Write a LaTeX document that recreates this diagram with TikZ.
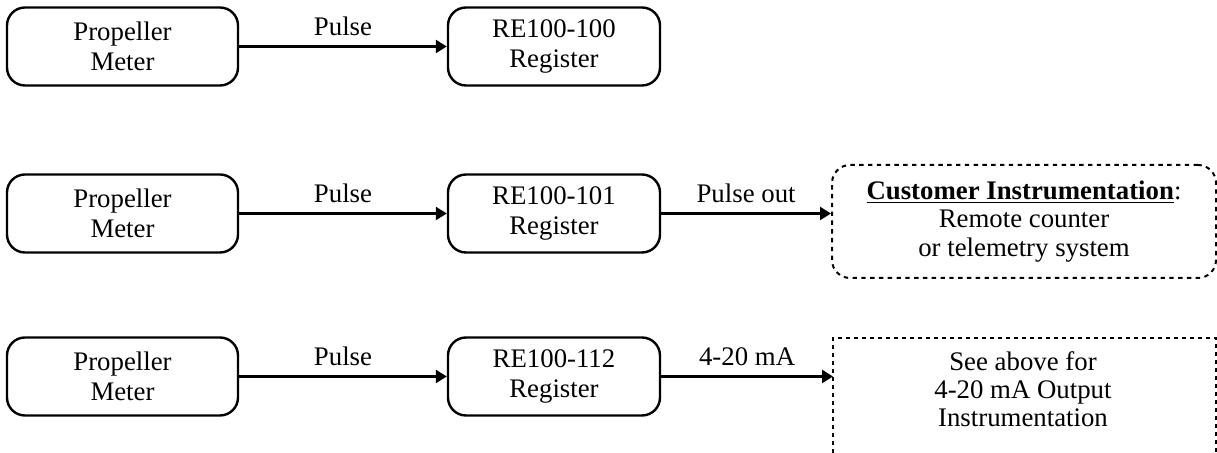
\documentclass[tikz,border=0pt]{standalone}
\usepackage{fontspec}
\setmainfont{Liberation Serif}
\usetikzlibrary{arrows.meta}
\tikzset{
  x=0.5pt, y=-0.5pt,
  box/.style={draw, line width=1.2pt, rounded corners=9pt, inner sep=0pt, align=center,
    font=\fontsize{13.4}{15}\selectfont},
  meter/.style={box, minimum width=115.5pt, minimum height=39pt},
  reg/.style={box, minimum width=106pt, minimum height=39pt},
  arr/.style={line width=1.2pt, -{Triangle[length=5.5pt,width=6.5pt]}},
  lbl/.style={anchor=base, inner sep=0pt, font=\fontsize{13.4}{15}\selectfont},
  dashbox/.style={draw, line width=1pt, dash pattern=on 2.2pt off 2.2pt, rounded corners=9pt,
    minimum width=192pt, minimum height=56.5pt, inner sep=0pt, align=center,
    font=\fontsize{13.4}{14.2}\selectfont},
  txt/.style={inner sep=0pt, align=center, font=\fontsize{13.4}{14}\selectfont},
  openbox/.style={line width=1pt, dash pattern=on 1.8pt off 2.2pt}
}
\begin{document}
\begin{tikzpicture}
\useasboundingbox (0,0) rectangle (1217,453);
% row 1
\node[meter] (p1) at (122.5,46.5) {Propeller\\Meter};
\node[reg] (r1) at (554,46.5) {RE100-100\\Register};
\draw[arr] (p1) -- (r1) node[lbl, midway, yshift=5.5pt] {Pulse};
% row 2
\node[meter] (p2) at (122.5,213.5) {Propeller\\Meter};
\node[reg] (r2) at (554,213.5) {RE100-101\\Register};
\node[dashbox] (c2) at (1024,221.5) {\underline{\textbf{Customer Instrumentation}}:\\Remote counter\\or telemetry system};
\draw[arr] (p2) -- (r2) node[lbl, midway, yshift=5.5pt] {Pulse};
\draw[arr] (r2.east) -- (r2.east -| c2.west) node[lbl, midway, yshift=5.5pt] {Pulse out};
% row 3
\node[meter] (p3) at (122.5,376.5) {Propeller\\Meter};
\node[reg] (r3) at (554,376.5) {RE100-112\\Register};
\node[txt] (c3) at (1023,389.5) {See above for\\4-20 mA Output\\Instrumentation};
\coordinate (c3in) at (833,376.5);
\draw[openbox] (833,453) -- (833,338) -- (1216,338) -- (1216,453);
\draw[arr] (p3) -- (r3) node[lbl, midway, yshift=5.5pt] {Pulse};
\draw[arr] (r3.east) -- (c3in) node[lbl, midway, yshift=5.5pt] {4-20 mA};
\end{tikzpicture}
\end{document}
